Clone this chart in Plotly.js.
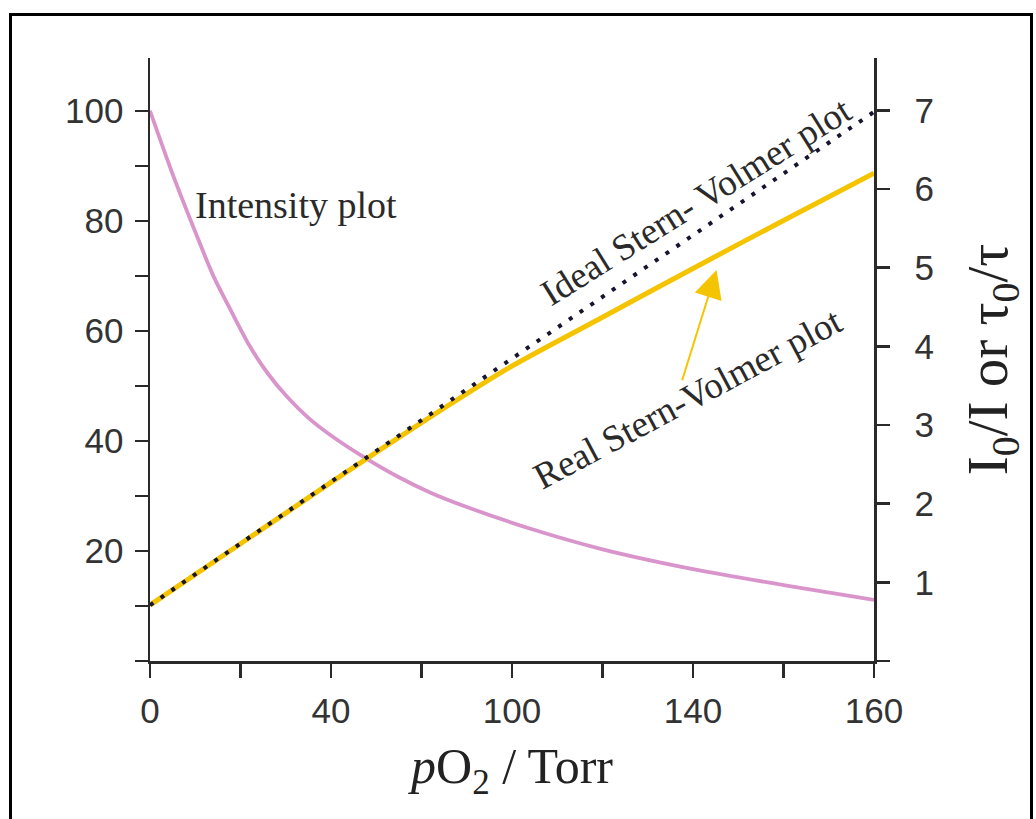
<!DOCTYPE html>
<html>
<head>
<meta charset="utf-8">
<script src="https://cdn.plot.ly/plotly-3.0.1.min.js"></script>
<style>
  html, body { margin: 0; padding: 0; background: #ffffff; }
  #chart { width: 1036px; height: 819px; }
  #frame { position: absolute; left: 9px; top: 13px; width: 1018px; height: 820px;
           border: 3px solid #000; pointer-events: none; }
</style>
</head>
<body>
<div id="chart"></div>
<div id="frame"></div>
<script>
// ---- data ----
const pressure = [0, 5, 10, 14, 18, 22, 26, 30, 35, 40, 47, 55, 62, 70, 85, 100, 120, 140, 160];
const intensity = [100, 88.5, 78, 70, 63.5, 57.3, 52.3, 48.3, 44.2, 41.0, 37.2, 33.4, 30.6, 28.0, 23.8, 20.3, 16.7, 13.8, 11.1];

const pressureSV = [0, 20, 40, 60, 80, 100, 120, 140, 160];
const realSV = [0.71, 1.49, 2.27, 3.03, 3.75, 4.37, 4.99, 5.60, 6.20];

const pressureIdeal = [0, 160];
const idealSV = [0.71, 6.98];

const xTickVals = [0, 40, 80, 120, 160];
const xTickText = ['0', '40', '100', '140', '160'];
const xMinorVals = [20, 60, 100, 140];
const yLeftTickVals = [20, 40, 60, 80, 100];
const yLeftTickText = ['20', '40', '60', '80', '100'];
const yLeftMinorVals = [0, 10, 30, 50, 70, 90];
const yRightTickVals = [1, 2, 3, 4, 5, 6, 7];
const yRightTickText = ['1', '2', '3', '4', '5', '6', '7'];
const yRightMinorVals = [0];

const axisColor = '#2a2a2a';
const tickFont = { family: 'Liberation Sans, Arial, sans-serif', size: 35, color: '#333333' };
const serif = 'Liberation Serif, Times New Roman, serif';

const traces = [
  { x: pressure, y: intensity, type: 'scatter', mode: 'lines', yaxis: 'y',
    line: { color: '#d995cb', width: 3.8, shape: 'spline', smoothing: 0.8 }, name: 'Intensity plot' },
  { x: pressureSV, y: realSV, type: 'scatter', mode: 'lines', yaxis: 'y2',
    line: { color: '#f5c400', width: 5, shape: 'spline', smoothing: 0.6 }, name: 'Real Stern-Volmer plot' },
  { x: pressureIdeal, y: idealSV, type: 'scatter', mode: 'lines', yaxis: 'y2',
    line: { color: '#15152e', width: 4, dash: '4px,9px' }, name: 'Ideal Stern-Volmer plot' }
];

const layout = {
  width: 1036, height: 819,
  margin: { l: 150, r: 162, t: 58, b: 158 },
  paper_bgcolor: '#ffffff', plot_bgcolor: '#ffffff',
  showlegend: false,
  xaxis: {
    range: [0, 160], tickvals: xTickVals, ticktext: xTickText,
    showline: true, linecolor: axisColor, linewidth: 2.5, zeroline: false, showgrid: false,
    ticks: 'outside', ticklen: 14, tickwidth: 2.5, tickcolor: axisColor,
    minor: { tickvals: xMinorVals, ticks: 'outside', ticklen: 14, tickwidth: 2.5, tickcolor: axisColor, showgrid: false },
    tickfont: tickFont, ticklabelstandoff: 3,
    title: { text: '<i>p</i>O<sub>2</sub> / Torr', font: { family: serif, size: 50, color: '#222' }, standoff: 20 },
    automargin: false
  },
  yaxis: {
    range: [0, 109.6], tickvals: yLeftTickVals, ticktext: yLeftTickText,
    showline: true, linecolor: axisColor, linewidth: 2.5, zeroline: false, showgrid: false,
    ticks: 'outside', ticklen: 13, tickwidth: 2.5, tickcolor: axisColor,
    minor: { tickvals: yLeftMinorVals, ticks: 'outside', ticklen: 13, tickwidth: 2.5, tickcolor: axisColor, showgrid: false },
    tickfont: tickFont, ticklabelstandoff: 4,
    automargin: false
  },
  yaxis2: {
    range: [0, 7.665], overlaying: 'y', side: 'right',
    tickvals: yRightTickVals, ticktext: yRightTickText,
    showline: true, linecolor: axisColor, linewidth: 2.5, zeroline: false, showgrid: false,
    ticks: 'outside', ticklen: 13, tickwidth: 2.5, tickcolor: axisColor,
    minor: { tickvals: yRightMinorVals, ticks: 'outside', ticklen: 13, tickwidth: 2.5, tickcolor: axisColor, showgrid: false },
    tickfont: tickFont, ticklabelstandoff: 18,
    title: { text: 'I<sub>0</sub>/I or τ<sub>0</sub>/τ', font: { family: serif, size: 57, color: '#222' }, standoff: 34 },
    automargin: false
  },
  annotations: [
    { text: 'Intensity plot', xref: 'x', yref: 'y', x: 32.2, y: 82.9, showarrow: false,
      xanchor: 'center', yanchor: 'middle', font: { family: serif, size: 38, color: '#2a2a2a' } },
    { text: 'Ideal Stern- Volmer plot', xref: 'x', yref: 'y', x: 120.6, y: 83.6, showarrow: false,
      textangle: -32, xanchor: 'center', yanchor: 'middle', font: { family: serif, size: 37, color: '#2a2a2a' } },
    { text: 'Real Stern-Volmer plot', xref: 'x', yref: 'y', x: 118.8, y: 47.8, showarrow: false,
      textangle: -28, xanchor: 'center', yanchor: 'middle', font: { family: serif, size: 37, color: '#2a2a2a' } },
    { text: '', xref: 'x', yref: 'y2', x: 125.2, y: 4.97, axref: 'x', ayref: 'y2', ax: 117.5, ay: 3.55,
      showarrow: true, arrowhead: 2, arrowsize: 2.8, arrowwidth: 2, arrowcolor: '#f5c400', standoff: 0 }
  ]
};

Plotly.newPlot('chart', traces, layout, { displayModeBar: false, staticPlot: true });
</script>
</body>
</html>
